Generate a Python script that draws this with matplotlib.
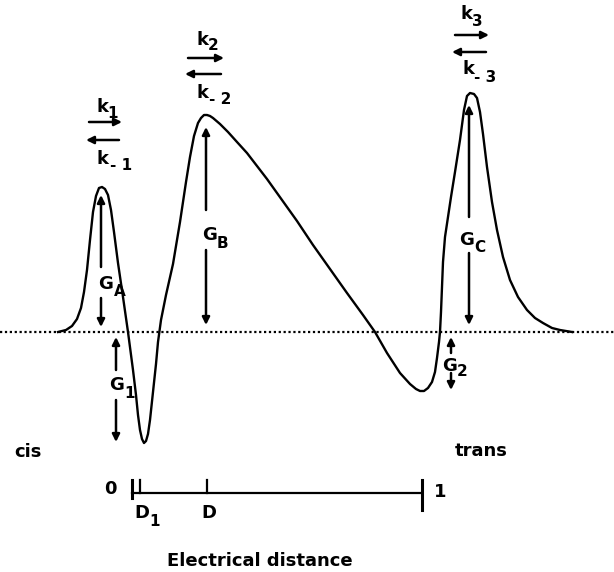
import matplotlib
matplotlib.use("Agg")
import matplotlib.pyplot as plt

plt.rcParams['font.family'] = ['DejaVu Sans']
plt.rcParams['font.weight'] = 'bold'

# energy profile (x = position across the figure, e = free energy, 0 = baseline)
profile_x = [58, 66, 72, 77, 81, 84, 87, 90, 93, 96, 99, 102, 105, 108, 111, 114, 118,
             123, 128, 133, 136, 138, 140, 142, 144, 146, 148, 150, 153, 156, 158, 161,
             166, 173, 180, 186, 190, 194, 198, 201, 204, 207, 210, 213, 220, 228, 237,
             247, 257, 267, 277, 287, 297, 313, 330, 347, 363, 375, 387, 400, 410, 416,
             420, 424, 428, 432, 435, 437, 439, 440, 441, 442, 443, 445, 448, 451, 455,
             460, 464, 467, 470, 474, 477, 480, 483, 487, 492, 497, 503, 510, 518, 527,
             535, 543, 552, 560, 572]
profile_e = [0, 2, 6, 13, 24, 40, 62, 92, 120, 136, 144, 145, 143, 137, 122, 100, 69,
             35, 0, -38, -63, -83, -98, -107, -111, -109, -102, -88, -60, -32, -10, 12,
             37, 68, 110, 150, 175, 196, 209, 214, 217, 217, 216, 214, 208, 200, 190,
             179, 166, 153, 139, 125, 111, 87, 63, 39, 17, 0, -21, -41, -52, -57,
             -59, -59, -56, -50, -40, -26, -10, 0, 20, 45, 70, 95, 115, 135, 160,
             192, 222, 236, 239, 238, 234, 220, 198, 165, 130, 102, 75, 52, 35, 22,
             14, 9, 4, 2, 0]

# energy arrows: (x, upper tail, upper head, lower tail, lower head)
g_arrows = [
    (101, 65, 137, 34, 5),
    (116, -38, -5, -68, -110),
    (206, 122, 205, 82, 7),
    (469, 115, 227, 79, 7),
    (451, -21, -5, -41, -58),
]

# rate constant arrows: (x left, x right, e forward, e backward)
rate_arrows = [
    (86, 122, 210, 192),
    (185, 224, 274, 258),
    (452, 489, 297, 280),
]

# labels with subscript: (x main, e main, main, x sub, e sub, sub)
sub_labels = [
    (98, 48, 'G', 114, 41, 'A'),
    (109, -53, 'G', 124, -62, '1'),
    (202, 97, 'G', 217, 89, 'B'),
    (459, 92, 'G', 474, 84, 'C'),
    (442, -34, 'G', 457, -39, '2'),
    (96, 225, 'k', 107, 218, '1'),
    (97, 173, 'k', 110, 166, '- 1'),
    (197, 292, 'k', 208, 286, '2'),
    (197, 239, 'k', 209, 232, '- 2'),
    (461, 318, 'k', 472, 310, '3'),
    (462, 263, 'k', 474, 255, '- 3'),
    (134, -181, 'D', 149, -190, '1'),
]

# electrical distance scale
dist_pos = [0.0, 0.028, 0.259, 1.0]
bar_x0, bar_x1 = 132, 422

fig = plt.figure(figsize=(6.14, 5.72), dpi=100)
ax = fig.add_axes([0, 0, 1, 1])
ax.set_xlim(0, 614)
ax.set_ylim(-240, 332)
ax.axis('off')

ax.plot([0, 614], [0, 0], color='black', lw=1.6, linestyle=(0, (1, 1.2)))
ax.plot(profile_x, profile_e, color='black', lw=1.7, solid_joinstyle='round')

arr = dict(arrowstyle='-|>', color='black', lw=1.8, mutation_scale=11, shrinkA=0, shrinkB=0)
fs = 13
fs_sub = 11

for x, ut, uh, lt, lh in g_arrows:
    ax.annotate('', xy=(x, uh), xytext=(x, ut), arrowprops=arr)
    ax.annotate('', xy=(x, lh), xytext=(x, lt), arrowprops=arr)

for xl, xr, ef, eb in rate_arrows:
    ax.annotate('', xy=(xr, ef), xytext=(xl + 3, ef), arrowprops=arr)
    ax.annotate('', xy=(xl, eb), xytext=(xr - 3, eb), arrowprops=arr)

for xm, em, m, xs, es, s in sub_labels:
    ax.text(xm, em, m, fontsize=fs, ha='left', va='center')
    ax.text(xs, es, s, fontsize=fs_sub, ha='left', va='center')

# scale bar
ax.plot([bar_x0, bar_x1], [-161, -161], color='black', lw=1.6)
for i, d in enumerate(dist_pos):
    x = bar_x0 + d * (bar_x1 - bar_x0)
    if i == 0:
        ax.plot([x, x], [-148, -166], color='black', lw=2.2)
    elif i == len(dist_pos) - 1:
        ax.plot([x, x], [-148, -178], color='black', lw=2.2)
    else:
        ax.plot([x, x], [-148, -161], color='black', lw=1.6)

ax.text(110, -157, '0', fontsize=fs, ha='center', va='center')
ax.text(440, -160, '1', fontsize=fs, ha='center', va='center')
ax.text(209, -181, 'D', fontsize=fs, ha='center', va='center')
ax.text(28, -120, 'cis', fontsize=fs, ha='center', va='center')
ax.text(481, -119, 'trans', fontsize=fs, ha='center', va='center')
ax.text(260, -229, 'Electrical distance', fontsize=fs, ha='center', va='center')

fig.savefig('out.png', dpi=100)
